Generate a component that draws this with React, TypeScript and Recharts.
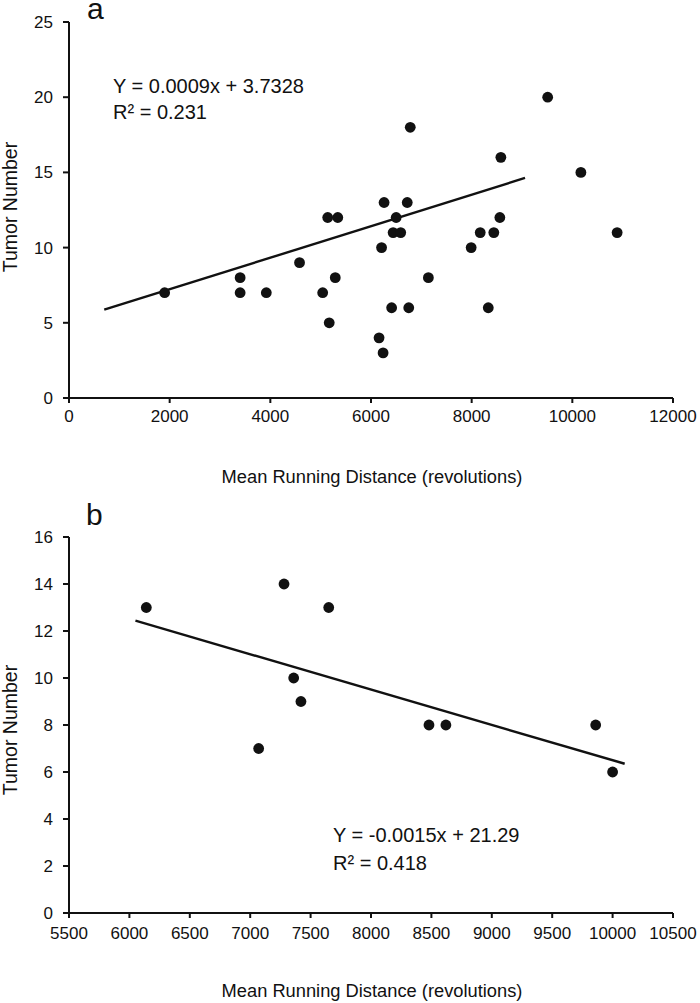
import React from 'react';
import { ScatterChart, Scatter, XAxis, YAxis, ReferenceLine } from 'recharts';

// panel a
const distanceA = [1900, 3400, 3400, 3920, 4580, 5040, 5170, 5290, 5140, 5340, 6260, 6720, 6500, 6440, 6590, 6210, 7140, 6410, 6750, 8330, 6160, 6240, 7990, 8170, 8440, 8560, 10890, 6780, 9510, 8580, 10170];
const tumorsA = [7, 8, 7, 7, 9, 7, 5, 8, 12, 12, 13, 13, 12, 11, 11, 10, 8, 6, 6, 6, 4, 3, 10, 11, 11, 12, 11, 18, 20, 16, 15];
const trendA = [{ x: 700, y: 5.87 }, { x: 9060, y: 14.63 }];
const xTicksA = [0, 2000, 4000, 6000, 8000, 10000, 12000];
const yTicksA = [0, 5, 10, 15, 20, 25];

// panel b
const distanceB = [6140, 7280, 7650, 7360, 7420, 7070, 8480, 8620, 9860, 10000];
const tumorsB = [13, 14, 13, 10, 9, 7, 8, 8, 8, 6];
const trendB = [{ x: 6050, y: 12.44 }, { x: 10100, y: 6.35 }];
const xTicksB = [5500, 6000, 6500, 7000, 7500, 8000, 8500, 9000, 9500, 10000, 10500];
const yTicksB = [0, 2, 4, 6, 8, 10, 12, 14, 16];

const X_TITLE = 'Mean Running Distance (revolutions)';
const Y_TITLE = 'Tumor Number';

const FONT = '"Liberation Sans", Arial, sans-serif';
const INK = '#111';

const pointsA = distanceA.map((x, i) => ({ x, y: tumorsA[i] }));
const pointsB = distanceB.map((x, i) => ({ x, y: tumorsB[i] }));

const Dot = (props: any) => <circle cx={props.cx} cy={props.cy} r={5.4} fill={INK} />;

const tickStyle = { fill: INK, fontSize: 17, fontFamily: FONT };
const axisLine = { stroke: INK, strokeWidth: 2 };
const txt = { fontFamily: FONT, fill: INK };

export default function App() {
  return (
    <div style={{ position: 'absolute', top: 0, left: 0, width: 700, height: 1003, fontFamily: FONT, background: '#fff' }}>
      <style>{`.recharts-surface { overflow: visible; }`}</style>
      <ScatterChart width={700} height={488} margin={{ top: 22, right: 27, bottom: 50, left: 0 }}>
        <XAxis
          type="number"
          dataKey="x"
          domain={[0, 12000]}
          ticks={xTicksA}
          tickSize={5}
          tickMargin={7}
          height={40}
          axisLine={axisLine}
          tickLine={axisLine}
          tick={tickStyle}
        />
        <YAxis
          type="number"
          dataKey="y"
          domain={[0, 25]}
          ticks={yTicksA}
          width={69}
          tickSize={6}
          tickMargin={10}
          axisLine={axisLine}
          tickLine={axisLine}
          tick={tickStyle}
        />
        <ReferenceLine segment={trendA} stroke={INK} strokeWidth={2.4} />
        <Scatter data={pointsA} fill={INK} shape={Dot} isAnimationActive={false} />
        <text x={87} y={19} fontSize={30} {...txt}>a</text>
        <text x={113} y={93} fontSize={20} {...txt}>Y = 0.0009x + 3.7328</text>
        <text x={113} y={119} fontSize={20} {...txt}>R² = 0.231</text>
        <text x={372} y={483} fontSize={18.3} textAnchor="middle" {...txt}>{X_TITLE}</text>
        <text transform="translate(17,207) rotate(-90)" fontSize={19.5} textAnchor="middle" {...txt}>{Y_TITLE}</text>
      </ScatterChart>
      <ScatterChart width={700} height={515} margin={{ top: 49, right: 27, bottom: 50, left: 0 }}>
        <XAxis
          type="number"
          dataKey="x"
          domain={[5500, 10500]}
          ticks={xTicksB}
          tickSize={5}
          tickMargin={9}
          height={40}
          axisLine={axisLine}
          tickLine={axisLine}
          tick={tickStyle}
        />
        <YAxis
          type="number"
          dataKey="y"
          domain={[0, 16]}
          ticks={yTicksB}
          width={69}
          tickSize={6}
          tickMargin={10}
          axisLine={axisLine}
          tickLine={axisLine}
          tick={tickStyle}
        />
        <ReferenceLine segment={trendB} stroke={INK} strokeWidth={2.4} />
        <Scatter data={pointsB} fill={INK} shape={Dot} isAnimationActive={false} />
        <text x={86} y={37} fontSize={30} {...txt}>b</text>
        <text x={333} y={354} fontSize={20} {...txt}>Y = -0.0015x + 21.29</text>
        <text x={333} y={382} fontSize={20} {...txt}>R² = 0.418</text>
        <text x={372} y={509} fontSize={18.3} textAnchor="middle" {...txt}>{X_TITLE}</text>
        <text transform="translate(17,242) rotate(-90)" fontSize={19.5} textAnchor="middle" {...txt}>{Y_TITLE}</text>
      </ScatterChart>
    </div>
  );
}
